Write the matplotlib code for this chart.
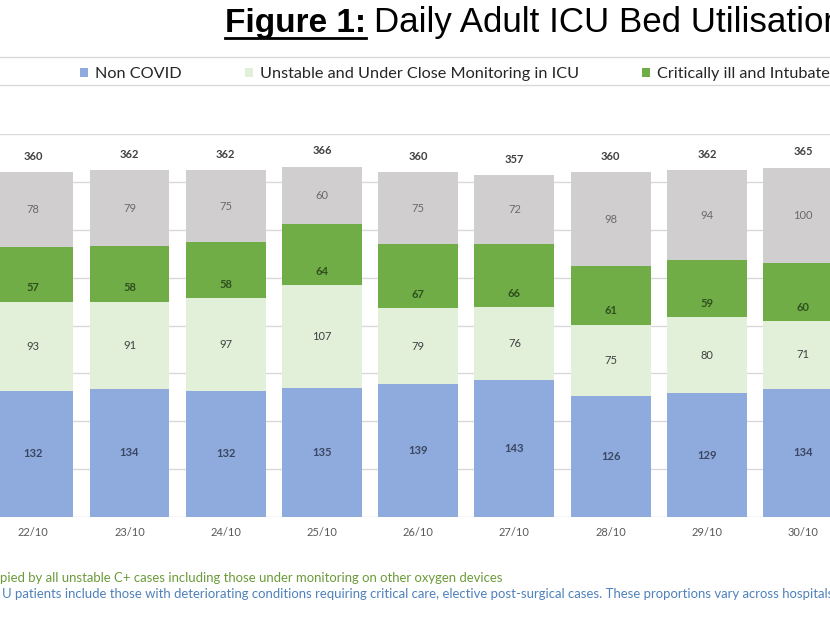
import matplotlib
matplotlib.use('Agg')
import matplotlib.pyplot as plt
from matplotlib.lines import Line2D
from matplotlib.patches import Patch
import numpy as np

plt.rcParams['font.family'] = ['Lato', 'DejaVu Sans']

dates = ['22/10', '23/10', '24/10', '25/10', '26/10', '27/10', '28/10', '29/10', '30/10']
non_covid = [132, 134, 132, 135, 139, 143, 126, 129, 134]
unstable = [93, 91, 97, 107, 79, 76, 75, 80, 71]
critical = [57, 58, 58, 64, 67, 66, 61, 59, 60]
vacant = [78, 79, 75, 60, 75, 72, 98, 94, 100]
totals = [360, 362, 362, 366, 360, 357, 360, 362, 365]

series_labels = ['Non COVID', 'Unstable and Under Close Monitoring in ICU',
                 'Critically ill and Intubated in ICU', 'Vacant ICU Beds']
colors = ['#8FAADC', '#E2F0D9', '#70AD47', '#D0CECE']
label_colors = ['#3A4763', '#404040', '#2F4F1E', '#6A6A6A']
label_bold = [True, False, True, False]

footnote1 = 'pied by all unstable C+ cases including those under monitoring on other oxygen devices'
footnote2 = ('U patients include those with deteriorating conditions requiring critical care, '
             'elective post-surgical cases. These proportions vary across hospitals.')

W, H = 830, 622
fig = plt.figure(figsize=(8.3, 6.22), dpi=100)


def fx(px):
    return px / W


def fy(py):
    return 1 - py / H


ax = fig.add_axes([fx(-14.8), fy(517), 866 / W, 383 / H])
x = np.arange(len(dates))
bw = 0.83
bottom = np.zeros(len(dates))
series = [non_covid, unstable, critical, vacant]
for i, (vals, col, lab) in enumerate(zip(series, colors, series_labels)):
    vals = np.array(vals, dtype=float)
    ax.bar(x, vals, bw, bottom=bottom, color=col, label=lab, zorder=2)
    for xi, v, b0 in zip(x, vals, bottom):
        if i == 2:
            ax.annotate(f'{int(v)}', (xi, b0), xytext=(0, 9.8), textcoords='offset points',
                        ha='center', va='center', fontsize=8, color=label_colors[i],
                        fontweight='bold', zorder=3)
        else:
            ax.text(xi, b0 + v / 2, f'{int(v)}', ha='center', va='center', fontsize=8,
                    color=label_colors[i], fontweight='bold' if label_bold[i] else 'normal',
                    zorder=3)
    bottom += vals

for xi, t, top in zip(x, totals, bottom):
    ax.annotate(f'{t}', (xi, top), xytext=(0, 11.5), textcoords='offset points',
                ha='center', va='center', fontsize=8, color='#404040', fontweight='bold')

ax.set_xlim(-0.5, len(dates) - 0.5)
ax.set_ylim(0, 400)
ax.set_yticks(range(0, 401, 50))
ax.set_yticklabels([])
ax.yaxis.grid(True, color='#D9D9D9', lw=1)
ax.set_axisbelow(True)
ax.set_xticks(x)
ax.set_xticklabels(dates, fontsize=8, color='#595959')
ax.tick_params(length=0, pad=7)
for s in ax.spines.values():
    s.set_visible(False)

# legend frame lines
for yy in (57, 85):
    fig.add_artist(Line2D([0, 1], [fy(yy), fy(yy)], transform=fig.transFigure,
                          color='#D9D9D9', lw=1))

fs = 11.7
fpx = fs * 100 / 72
handles = [Patch(facecolor=c, edgecolor='none', label=l) for c, l in zip(colors, series_labels)]
leg = fig.legend(handles=handles, loc='center left', bbox_to_anchor=(fx(80), fy(74)),
                 ncol=4, frameon=False, fontsize=fs, handlelength=8 / fpx,
                 handleheight=8 / fpx, handletextpad=7 / fpx, columnspacing=63 / fpx,
                 borderpad=0, borderaxespad=0)
for t in leg.get_texts():
    t.set_color('#262626')

# title
t1 = fig.text(fx(225), fy(32), 'Figure 1:', fontsize=24, fontweight='bold',
              family='Liberation Sans', va='baseline', ha='left', color='black')
fig.canvas.draw()
r = fig.canvas.get_renderer()
bb = t1.get_window_extent(r)
fig.text((bb.x1 + 8) / W, fy(32), 'Daily Adult ICU Bed Utilisation', fontsize=25.1,
         family='Liberation Sans', va='baseline', ha='left', color='black')
fig.add_artist(Line2D([bb.x0 / W, bb.x1 / W], [fy(37.5), fy(37.5)], transform=fig.transFigure,
                      color='black', lw=2.0))

# footnotes
fig.text(fx(0), fy(578), footnote1, ha='left', va='center', fontsize=9.43, color='#6B9B3A')
fig.text(fx(2), fy(594), footnote2, ha='left', va='center', fontsize=9.47, color='#4F81BD')

fig.savefig('out.png', dpi=100)
